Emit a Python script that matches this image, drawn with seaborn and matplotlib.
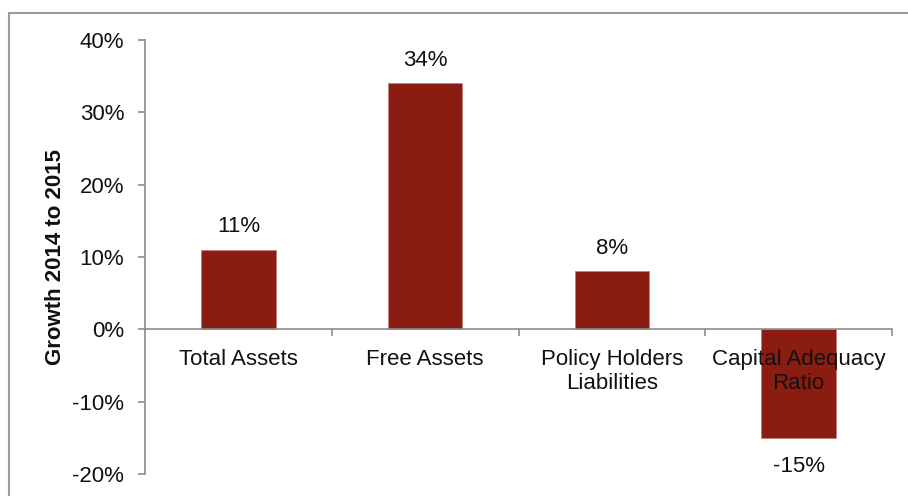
import matplotlib
matplotlib.use("Agg")
import matplotlib.pyplot as plt
from matplotlib.lines import Line2D
from matplotlib.ticker import FuncFormatter, FixedLocator
import seaborn as sns

categories = ["Total Assets", "Free Assets", "Policy Holders\nLiabilities", "Capital Adequacy\nRatio"]
growth_pct = [11, 34, 8, -15]
y_ticks = [-20, -10, 0, 10, 20, 30, 40]

sns.set_theme(style="white")
plt.rcParams["font.family"] = ["Liberation Sans", "DejaVu Sans"]

BAR_COLOR = "#8b1c11"
AXIS_GRAY = "#8c8c8c"
TEXT_COLOR = "#111111"
FS = 16

fig = plt.figure(figsize=(9.08, 4.96), dpi=100)
ax = fig.add_axes([145 / 908, 1 - 474 / 496, (892 - 145) / 908, (474 - 40) / 496])

sns.barplot(x=categories, y=growth_pct, color=BAR_COLOR, saturation=1,
            width=0.4, edgecolor="#c0807a", linewidth=0.6, ax=ax)
# axis labels and baseline sit on top of the bars
ax.set_axisbelow(False)

ax.set_xlim(-0.5, len(categories) - 0.5)
ax.set_ylim(y_ticks[0], y_ticks[-1])
ax.set_yticks(y_ticks)
ax.yaxis.set_major_formatter(FuncFormatter(lambda v, _: f"{v:.0f}%"))

# value labels above positive bars, below negative ones
bars = ax.containers[0]
ax.bar_label(bars, labels=[f"{v}%" if v >= 0 else "" for v in growth_pct],
             padding=9, fontsize=FS, color=TEXT_COLOR)
ax.bar_label(bars, labels=[f"{v}%" if v < 0 else "" for v in growth_pct],
             padding=13, fontsize=FS, color=TEXT_COLOR)

# spines: left axis plus a baseline at zero
for side in ("top", "right"):
    ax.spines[side].set_visible(False)
ax.spines["left"].set_color(AXIS_GRAY)
ax.spines["bottom"].set_color(AXIS_GRAY)
ax.spines["left"].set_linewidth(1.2)
ax.spines["bottom"].set_linewidth(1.2)
ax.spines["bottom"].set_position(("data", 0))

# category labels centred, tick marks between categories
ax.xaxis.set_minor_locator(FixedLocator([i + 0.5 for i in range(len(categories))]))
ax.tick_params(axis="x", which="major", length=0, pad=14, labelsize=FS,
               labelcolor=TEXT_COLOR)
ax.tick_params(axis="x", which="minor", bottom=True, length=5, width=1.2,
               color=AXIS_GRAY, direction="out")
ax.tick_params(axis="y", which="major", left=True, length=5, width=1.2,
               color=AXIS_GRAY, direction="out", pad=10, labelsize=FS,
               labelcolor=TEXT_COLOR)
for lbl in ax.get_xticklabels():
    lbl.set_linespacing(1.2)

ax.set_ylabel("Growth 2014 to 2015", fontsize=FS, fontweight="bold", color=TEXT_COLOR)
ax.yaxis.set_label_coords(-0.106, 0.5)
ax.set_xlabel("")

# frame around the chart area
frame_kw = dict(transform=fig.transFigure, color="#9a9a9a", linewidth=1.5)
fig.add_artist(Line2D([9 / 908, 1], [1 - 13 / 496, 1 - 13 / 496], **frame_kw))
fig.add_artist(Line2D([9 / 908, 9 / 908], [0, 1 - 13 / 496], **frame_kw))

fig.savefig("out.png", dpi=100)
